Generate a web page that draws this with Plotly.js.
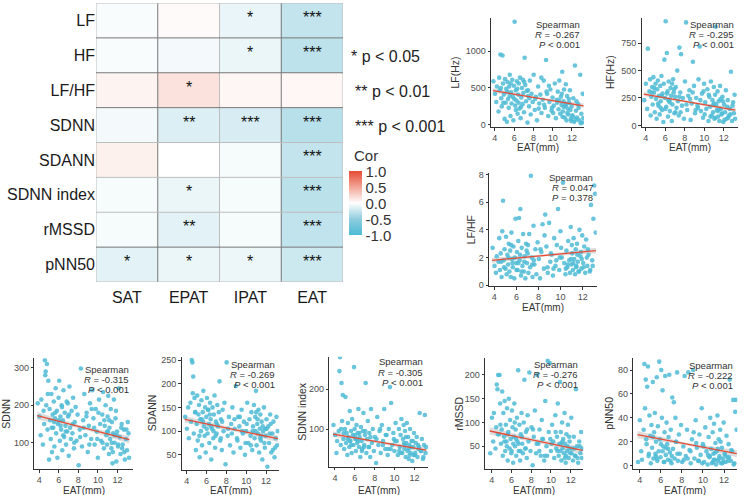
<!DOCTYPE html>
<html><head><meta charset="utf-8">
<script src="https://cdn.plot.ly/plotly-3.0.1.min.js"></script>
<style>html,body{margin:0;padding:0;background:#fff}#chart{width:744px;height:495px}</style>
</head><body><div id="chart"></div>
<script>
// ---------- heatmap data ----------
const heatCols = ['SAT','EPAT','IPAT','EAT'];
const heatRows = ['LF','HF','LF/HF','SDNN','SDANN','SDNN index','rMSSD','pNN50'];
const corLF        = [-0.03,  0.03, -0.10, -0.267];
const corHF        = [-0.03, -0.05, -0.09, -0.295];
const corLFHF      = [ 0.06,  0.16,  0.05,  0.047];
const corSDNN      = [-0.05, -0.16, -0.18, -0.315];
const corSDANN     = [ 0.08,  0.00, -0.04, -0.269];
const corSDNNindex = [-0.04, -0.09, -0.04, -0.305];
const corRMSSD     = [-0.04, -0.13, -0.04, -0.276];
const corPNN50     = [-0.13, -0.09, -0.08, -0.222];
const starLF        = ['', '', '*', '***'];
const starHF        = ['', '', '*', '***'];
const starLFHF      = ['', '*', '', ''];
const starSDNN      = ['', '**', '***', '***'];
const starSDANN     = ['', '', '', '***'];
const starSDNNindex = ['', '*', '', '***'];
const starRMSSD     = ['', '**', '', '***'];
const starPNN50     = ['*', '*', '*', '***'];
const legendTexts = ['* p &lt; 0.05', '** p &lt; 0.01', '*** p &lt; 0.001'];
const cbTicks = [-1, -0.5, 0, 0.5, 1];
const cbLabels = ['-1.0', '-0.5', '0.0', '0.5', '1.0'];

// ---------- scatter data (EAT shared) ----------
const EAT = [3.85,4.02,4.15,4.22,4.38,4.45,4.51,4.58,4.66,4.72,
4.79,4.85,4.93,5.01,5.06,5.12,5.18,5.25,5.31,5.37,
5.44,5.49,5.55,5.62,5.68,5.73,5.81,5.86,5.92,5.98,
6.05,6.11,6.17,6.24,6.29,6.36,6.42,6.48,6.55,6.61,
6.68,6.74,6.81,6.87,6.95,7.02,7.09,7.16,7.24,7.31,
7.39,7.46,7.55,7.63,7.72,7.81,7.92,8.03,8.14,8.26,
8.37,8.49,8.61,8.72,8.84,8.96,9.07,9.19,9.31,9.42,
9.54,9.66,9.77,9.88,9.99,10.11,10.22,10.33,10.44,10.53,
10.61,10.69,10.78,10.85,10.92,10.99,11.05,11.12,11.18,11.24,
11.31,11.37,11.43,11.49,11.56,11.63,11.71,11.79,11.88,11.96,
12.05,12.14,12.23,12.31,12.42,12.53,12.64,12.75,12.86,12.97,
13.05,13.12,13.18,4.88,5.28,5.64,6.02,6.33,6.71,7.05,
7.44,8.18,8.82,9.12,9.61,10.05,10.47,10.95,11.15,11.52,
11.67,11.84,12.08,12.38,12.69,4.62,5.53,6.46,6.92,7.58,
8.55,9.36,9.93,10.65,11.02,11.41,11.92,12.47,12.91,6.18];

const LF = [590,420,310,520,180,640,470,955,360,250,
940,560,410,80,620,300,490,40,580,350,
230,520,680,120,440,290,610,380,60,530,
1400,260,470,330,590,150,410,560,220,640,
90,370,500,280,430,170,910,540,320,460,
30,390,250,600,140,420,310,680,200,380,
60,520,290,410,160,340,600,230,880,420,
120,310,480,190,370,260,560,90,340,450,
210,600,150,380,270,720,180,320,480,100,
260,550,60,390,220,140,300,470,80,250,
130,360,40,805,190,100,280,60,680,150,
30,420,90,300,450,560,350,490,240,580,
470,350,640,270,530,160,300,420,240,160,
350,200,110,70,230,500,390,300,610,360,
220,450,230,330,110,280,50,320,20,200];

const HF = [230,380,150,700,310,420,90,260,350,190,
440,300,120,380,240,60,330,410,180,270,
100,360,220,450,140,290,30,380,600,250,
950,170,660,310,80,400,230,130,340,270,
40,190,420,300,110,260,350,160,500,220,
90,710,300,650,180,250,60,400,940,140,
270,320,50,200,580,360,110,250,180,420,
720,130,290,70,380,210,150,330,40,260,
170,400,90,230,120,350,60,280,900,190,
140,310,80,220,40,360,150,100,260,30,
190,120,320,60,230,90,150,490,40,210,
110,280,60,340,200,270,150,230,380,120,
260,190,300,140,230,100,280,190,70,150,
240,110,50,170,100,300,160,210,330,120,
240,160,310,80,200,130,220,70,180,290];

const LFHF = [2.7,1.4,0.9,2.1,1.7,3.4,1.1,2.3,0.6,3.9,
6.1,1.8,2.6,1.2,3.5,0.8,2.2,1.5,3.0,1.0,
2.5,0.6,3.8,1.9,1.3,2.8,0.5,2.0,4.8,1.6,
2.4,1.1,3.2,4.85,1.8,5.5,0.7,2.7,1.4,3.7,
1.0,2.1,0.5,3.0,1.6,2.3,0.9,3.7,1.3,7.9,
2.0,0.6,4.3,1.5,2.6,0.8,3.1,1.9,0.5,2.4,
4.4,1.2,5.1,2.8,0.9,4.5,1.7,2.2,0.7,3.4,
1.4,2.9,5.5,1.1,3.9,2.0,7.4,1.6,0.8,2.5,
1.3,3.2,1.8,0.9,4.2,1.5,2.3,1.1,3.4,1.9,
0.8,2.6,1.4,3.0,1.7,1.0,4.0,2.1,1.2,3.6,
1.6,2.8,0.9,3.3,1.4,2.2,1.0,5.8,1.8,4.8,
7.2,6.6,3.8,1.3,2.0,1.6,1.1,2.2,1.7,2.9,
1.5,2.6,1.3,2.3,1.8,2.7,1.2,1.9,1.6,2.2,
1.0,2.4,1.3,2.0,1.1,1.7,2.9,1.0,2.5,1.8,
3.6,1.2,2.0,1.5,2.9,1.3,1.9,2.6,1.4,1.6];

const SDNN = [205,170,120,215,95,185,150,320,290,200,
310,135,265,55,190,160,110,230,75,175,
140,210,90,165,245,125,185,60,150,220,
265,105,170,135,200,80,160,240,115,180,
145,95,210,130,170,65,250,140,110,185,
125,220,85,155,195,105,175,40,135,298,
90,160,230,120,180,75,145,205,110,240,
165,95,190,130,60,215,150,105,175,235,
85,145,200,120,95,170,225,70,140,110,
190,85,155,45,125,215,100,165,50,130,
90,245,115,70,150,95,135,55,110,80,
155,125,60,230,140,180,160,195,130,175,
150,115,170,95,140,180,100,130,160,75,
120,185,95,140,75,280,155,120,205,100,
140,190,110,160,130,100,120,85,135,145];

const SDANN = [130,105,150,85,160,120,250,245,215,95,
170,140,60,115,175,80,135,155,45,125,
100,165,70,140,185,110,90,150,55,130,
170,95,145,115,75,160,125,40,105,150,
85,135,175,65,120,95,155,110,140,205,
80,125,60,145,100,160,30,245,90,130,
70,115,150,55,105,195,85,130,110,65,
145,95,120,50,100,160,75,125,90,140,
60,110,155,85,130,185,70,115,95,145,
55,105,135,80,120,40,100,150,65,90,
125,25,110,75,135,55,95,120,45,85,
130,70,100,140,90,120,105,135,100,115,
85,105,125,80,100,115,70,100,125,90,
110,75,105,95,60,180,125,110,90,120,
95,130,75,100,140,85,105,115,65,145];

const SDNNindex = [110,85,40,70,95,245,280,60,215,120,
185,75,50,100,180,65,90,35,115,80,
55,145,70,95,40,125,85,60,255,100,
75,45,110,65,90,150,55,80,30,105,
70,50,95,140,60,85,215,40,75,120,
55,90,30,150,65,100,45,80,15,130,
60,95,40,110,70,150,50,85,35,100,
205,165,60,90,45,115,70,35,100,55,
85,125,40,75,110,50,95,30,65,115,
45,80,25,60,100,40,70,20,55,90,
35,65,80,30,50,140,45,75,25,60,
135,40,55,90,75,60,85,70,45,95,
55,75,60,85,50,70,45,65,80,35,
55,70,40,60,45,100,70,90,55,80,
100,50,75,40,60,50,35,55,30,75];

const RMSSD = [35,110,60,120,45,90,180,170,200,75,
200,140,55,85,165,30,120,70,145,40,
95,60,130,20,80,150,45,105,65,35,
125,90,15,70,140,50,85,30,110,60,
210,40,95,20,75,120,55,35,100,190,
45,80,25,115,60,205,40,90,10,70,
125,35,200,55,85,30,105,65,20,145,
50,230,80,225,40,95,60,25,115,45,
70,140,30,55,185,80,20,100,45,65,
35,120,55,15,75,40,95,25,60,35,
110,45,20,70,30,170,50,15,60,35,
80,25,45,95,60,75,40,100,55,70,
45,85,40,65,30,55,80,40,60,30,
50,70,35,45,25,75,50,65,40,85,
55,30,65,40,55,25,45,30,50,55];

const PNN50 = [3,38,12,5,30,85,48,72,18,66,
83,8,42,25,2,34,15,70,6,28,
44,10,20,74,4,33,12,87,22,7,
80,40,63,16,3,28,75,9,36,18,
5,24,76,11,30,2,57,14,53,6,
40,20,78,4,26,10,34,3,16,75,
8,30,78,13,2,22,80,6,38,15,
4,26,9,48,18,3,32,12,1,24,
7,40,14,2,28,10,35,5,19,1,
12,42,4,22,8,30,2,15,6,36,
10,3,25,7,18,72,4,12,55,2,
45,55,30,10,24,6,18,3,14,8,
20,5,12,28,4,16,9,3,11,6,
20,2,9,4,13,22,8,15,4,10,
6,19,2,8,5,14,3,7,1,12];

// regression lines and confidence bands
const fitX = [3.8, 13.2];
const bandX = [3.8, 8.5, 13.2];
const fitLF = [465, 258];      const bandLFlo = [435, 350, 228];   const bandLFhi = [495, 373, 288];
const fitHF = [285, 140];      const bandHFlo = [265, 205, 120];   const bandHFhi = [305, 220, 160];
const fitLFHF = [1.8, 2.5];    const bandLFHFlo = [1.6, 2.07, 2.3]; const bandLFHFhi = [2.0, 2.23, 2.7];
const fitSDNN = [172, 108];    const bandSDNNlo = [162, 136, 98];  const bandSDNNhi = [182, 144, 118];
const fitSDANN = [125, 84];    const bandSDANNlo = [118, 101, 77]; const bandSDANNhi = [132, 108, 91];
const fitSDNNindex = [87, 47]; const bandSDNNindexlo = [80, 64, 40]; const bandSDNNindexhi = [94, 70, 54];
const fitRMSSD = [82, 41];     const bandRMSSDlo = [74, 58, 33];   const bandRMSSDhi = [90, 65, 49];
const fitPNN50 = [26, 10];     const bandPNN50lo = [23, 17, 7];    const bandPNN50hi = [29, 19, 13];

const statR = ['-0.267','-0.295','0.047','-0.315','-0.269','-0.305','-0.276','-0.222'];
const statP = ['&lt; 0.001','&lt; 0.001','= 0.378','&lt; 0.001','&lt; 0.001','&lt; 0.001','&lt; 0.001','&lt; 0.001'];
const yTitles = ['LF(Hz)','HF(Hz)','LF/HF','SDNN','SDANN','SDNN index','rMSSD','pNN50'];
const xTitle = 'EAT(mm)';
const xTicks = [4, 6, 8, 10, 12];

// ---------- layout helpers ----------
const W = 744, H = 495;
const FONT = 'Liberation Sans, Arial, sans-serif';
const px = v => v / W;
const py = v => 1 - v / H;

const panels = [
  {y: LF, fit: fitLF, lo: bandLFlo, hi: bandLFhi, box: [491, 584, 18, 127], yr: [-30, 1450], xr: [3.6, 13.25], yt: [0, 500, 1000], ytx: 455, xty: 148, st: [581.5, 24.3]},
  {y: HF, fit: fitHF, lo: bandHFlo, hi: bandHFhi, box: [641.7, 737.7, 18, 127], yr: [-15, 980], xr: [3.59, 13.44], yt: [0, 250, 500, 750], ytx: 610.5, xty: 148, st: [736, 24.3]},
  {y: LFHF, fit: fitLFHF, lo: bandLFHFlo, hi: bandLFHFhi, box: [489, 596.7, 173, 286], yr: [-0.05, 8.1], xr: [3.52, 13.27], yt: [0, 2, 4, 6, 8], ytx: 470.7, xty: 307, st: [595, 177.3]},
  {y: SDNN, fit: fitSDNN, lo: bandSDNNlo, hi: bandSDNNhi, box: [34.3, 132.7, 358.3, 469], yr: [30, 325], xr: [3.5, 13.55], yt: [100, 200, 300], ytx: 6, xty: 490, st: [130.7, 369]},
  {y: SDANN, fit: fitSDANN, lo: bandSDANNlo, hi: bandSDANNhi, box: [181.7, 279.3, 356.7, 470], yr: [18, 257], xr: [3.5, 13.34], yt: [50, 100, 150, 200, 250], ytx: 152, xty: 490, st: [276.7, 364.3]},
  {y: SDNNindex, fit: fitSDNNindex, lo: bandSDNNindexlo, hi: bandSDNNindexhi, box: [329.3, 428.3, 356.7, 466.7], yr: [5.7, 281], xr: [3.43, 13.4], yt: [100, 200], ytx: 302, xty: 490, st: [425, 361.7]},
  {y: RMSSD, fit: fitRMSSD, lo: bandRMSSDlo, hi: bandRMSSDhi, box: [485, 583.3, 358.3, 469], yr: [2, 235], xr: [3.32, 13.27], yt: [50, 100, 150, 200], ytx: 459, xty: 490, st: [580, 364.3]},
  {y: PNN50, fit: fitPNN50, lo: bandPNN50lo, hi: bandPNN50hi, box: [633.3, 737.3, 358.3, 469], yr: [-2.8, 89.8], xr: [3.4, 13.25], yt: [0, 20, 40, 60, 80], ytx: 609, xty: 490, st: [735, 365]}
];

const traces = [];
const annotations = [];
const shapes = [];
const layout = {
  width: W, height: H, margin: {l: 0, r: 0, t: 0, b: 0},
  paper_bgcolor: '#fff', plot_bgcolor: 'rgba(0,0,0,0)',
  showlegend: false, font: {family: FONT, color: '#222'},
  annotations: annotations, shapes: shapes
};

// ---------- heatmap ----------
const zRows = [corLF, corHF, corLFHF, corSDNN, corSDANN, corSDNNindex, corRMSSD, corPNN50];
const starRows = [starLF, starHF, starLFHF, starSDNN, starSDANN, starSDNNindex, starRMSSD, starPNN50];
traces.push({
  type: 'heatmap', x: heatCols, y: heatRows, z: zRows, zmin: -1, zmax: 1,
  xaxis: 'x', yaxis: 'y', hoverinfo: 'skip',
  colorscale: [[0, '#4DBBD5'], [0.25, '#8FCDDE'], [0.5, '#FFFFFF'], [0.75, '#F2A596'], [1, '#E64B35']],
  colorbar: {
    thickness: 13, thicknessmode: 'pixels', len: 64, lenmode: 'pixels',
    x: px(348.5), xanchor: 'left', xpad: 0, y: py(203.3), yanchor: 'middle', ypad: 0,
    outlinewidth: 0, ticks: '', tickvals: cbTicks, ticktext: cbLabels,
    tickfont: {family: FONT, size: 15, color: '#333'}
  }
});
layout.xaxis = {domain: [px(96), px(343)], range: [-0.5, 3.5], type: 'category', showgrid: false, zeroline: false,
  ticks: '', ticklabelstandoff: 4, tickfont: {family: FONT, size: 16, color: '#1a1a1a'}, fixedrange: true};
layout.yaxis = {domain: [py(282), py(3)], range: [7.5, -0.5], type: 'category', showgrid: false, zeroline: false,
  ticks: '', tickfont: {family: FONT, size: 16, color: '#1a1a1a'}, fixedrange: true};

starRows.forEach((row, r) => row.forEach((s, c) => {
  if (s) annotations.push({xref: 'x', yref: 'y', x: heatCols[c], y: heatRows[r], text: s, showarrow: false,
    font: {family: FONT, size: 16, color: '#111'}, yshift: 3});
}));
// grid lines
const dark = '#777', light = '#bdbdbd';
const vLines = [[-0.5, light], [0.5, dark], [1.5, light], [2.5, dark], [3.5, light]];
const hLines = [[-0.5, light], [0.5, dark], [1.5, dark], [2.5, dark], [3.5, light], [4.5, light], [5.5, light], [6.5, dark], [7.5, light]];
vLines.forEach(([v, col]) => shapes.push({type: 'line', xref: 'x', yref: 'y', x0: v, x1: v, y0: -0.5, y1: 7.5, line: {color: col, width: 1}}));
hLines.forEach(([v, col]) => shapes.push({type: 'line', xref: 'x', yref: 'y', x0: -0.5, x1: 3.5, y0: v, y1: v, line: {color: col, width: 1}}));

annotations.push({xref: 'paper', yref: 'paper', x: px(352), y: py(155), xanchor: 'left', yanchor: 'middle',
  text: 'Cor', showarrow: false, font: {family: FONT, size: 15, color: '#333'}});
const legX = [349, 353, 353], legY = [56.7, 91.7, 126.7];
legendTexts.forEach((t, i) => annotations.push({xref: 'paper', yref: 'paper', x: px(legX[i]), y: py(legY[i]),
  xanchor: 'left', yanchor: 'middle', text: t, showarrow: false, font: {family: FONT, size: 16, color: '#222'}}));

// ---------- scatter panels ----------
panels.forEach((p, i) => {
  const n = i + 2, xa = 'x' + n, ya = 'y' + n;
  traces.push({type: 'scatter', mode: 'lines', x: bandX.concat(bandX.slice().reverse()),
    y: p.lo.concat(p.hi.slice().reverse()), fill: 'toself', fillcolor: 'rgba(180,180,180,0.45)',
    line: {width: 0}, xaxis: xa, yaxis: ya, hoverinfo: 'skip'});
  traces.push({type: 'scatter', mode: 'markers', x: EAT, y: p.y, xaxis: xa, yaxis: ya,
    marker: {size: 4.6, color: '#4DBBD5', opacity: 0.85, line: {width: 0}}, hoverinfo: 'skip'});
  traces.push({type: 'scatter', mode: 'lines', x: fitX, y: p.fit, xaxis: xa, yaxis: ya,
    line: {color: '#E64B35', width: 1.3}, hoverinfo: 'skip'});
  const [l, r, t, b] = p.box;
  const axCommon = {showgrid: false, zeroline: false, showline: true, linecolor: '#333', linewidth: 1,
    ticks: 'outside', ticklen: 2.5, tickcolor: '#333', tickwidth: 1,
    tickfont: {family: FONT, size: 9, color: '#4d4d4d'}, fixedrange: true};
  layout['xaxis' + n] = Object.assign({}, axCommon, {domain: [px(l), px(r)], range: p.xr, tickvals: xTicks, anchor: ya});
  layout['yaxis' + n] = Object.assign({}, axCommon, {domain: [py(b), py(t)], range: p.yr, tickvals: p.yt, anchor: xa});
  annotations.push({xref: 'paper', yref: 'paper', x: px((l + r) / 2), y: py(p.xty), xanchor: 'center', yanchor: 'middle',
    text: xTitle, showarrow: false, font: {family: FONT, size: 10, color: '#333'}});
  annotations.push({xref: 'paper', yref: 'paper', x: px(p.ytx), y: py((t + b) / 2), xanchor: 'center', yanchor: 'middle',
    text: yTitles[i], textangle: -90, showarrow: false, font: {family: FONT, size: 10.5, color: '#333'}});
  const lines = ['Spearman', '<i>R</i> = ' + statR[i], '<i>P</i> ' + statP[i]];
  lines.forEach((s, k) => annotations.push({xref: 'paper', yref: 'paper', x: px(p.st[0]), y: py(p.st[1] + k * 10.3),
    xanchor: 'right', yanchor: 'middle', text: s, showarrow: false, font: {family: FONT, size: 9.5, color: '#333'}}));
});

Plotly.newPlot('chart', traces, layout, {staticPlot: true, displayModeBar: false});
</script></body></html>
